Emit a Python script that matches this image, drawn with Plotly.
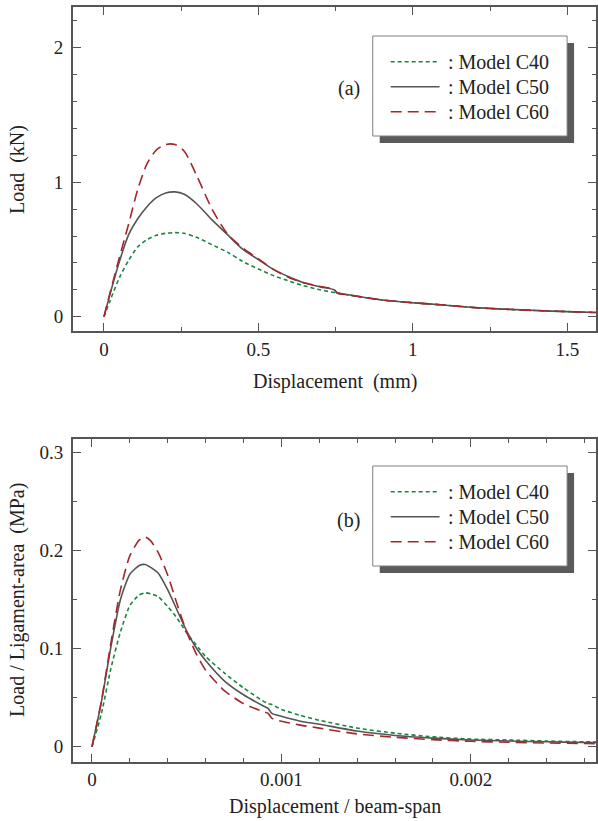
import plotly.graph_objects as go

# ---------------- data ----------------
disp_a = [0, 0.02, 0.05, 0.08, 0.11, 0.14, 0.17, 0.20, 0.23, 0.26, 0.30, 0.35, 0.40, 0.45,
          0.50, 0.55, 0.60, 0.65, 0.70, 0.745, 0.755, 0.80, 0.90, 1.0, 1.1, 1.2, 1.3, 1.4, 1.5, 1.6]
load_c40 = [0, 0.12, 0.29, 0.42, 0.52, 0.575, 0.605, 0.62, 0.625, 0.62, 0.59, 0.535, 0.48, 0.41,
            0.355, 0.305, 0.265, 0.228, 0.20, 0.18, 0.176, 0.158, 0.125, 0.104, 0.087, 0.068, 0.056, 0.046, 0.038, 0.031]
load_c50 = [0, 0.17, 0.41, 0.61, 0.73, 0.82, 0.885, 0.92, 0.928, 0.91, 0.84, 0.72, 0.61, 0.50,
            0.425, 0.35, 0.295, 0.25, 0.222, 0.20, 0.178, 0.16, 0.125, 0.104, 0.087, 0.068, 0.056, 0.046, 0.038, 0.031]
load_c60 = [0, 0.18, 0.44, 0.69, 0.95, 1.14, 1.24, 1.28, 1.28, 1.23, 1.05, 0.80, 0.615, 0.51,
            0.43, 0.35, 0.29, 0.25, 0.225, 0.202, 0.177, 0.16, 0.125, 0.104, 0.087, 0.068, 0.056, 0.046, 0.038, 0.031]

disp_b = [0, 0.05e-3, 0.10e-3, 0.15e-3, 0.20e-3, 0.25e-3, 0.28e-3, 0.31e-3, 0.35e-3, 0.40e-3, 0.45e-3,
          0.50e-3, 0.55e-3, 0.60e-3, 0.70e-3, 0.80e-3, 0.90e-3, 0.93e-3, 0.95e-3, 1.0e-3, 1.1e-3,
          1.2e-3, 1.4e-3, 1.6e-3, 1.8e-3, 2.0e-3, 2.2e-3, 2.4e-3, 2.6e-3, 2.7e-3]
stress_c40 = [0, 0.034, 0.080, 0.117, 0.144, 0.155, 0.157, 0.156, 0.153, 0.143, 0.131, 0.116, 0.104,
              0.092, 0.075, 0.060, 0.047, 0.044, 0.043, 0.038, 0.032, 0.027, 0.019, 0.0138, 0.010,
              0.0078, 0.0068, 0.0058, 0.0050, 0.0048]
stress_c50 = [0, 0.046, 0.102, 0.150, 0.176, 0.185, 0.186, 0.183, 0.177, 0.160, 0.139, 0.118, 0.101,
              0.088, 0.067, 0.053, 0.042, 0.039, 0.034, 0.031, 0.026, 0.023, 0.016, 0.0115, 0.0088,
              0.0068, 0.0058, 0.0050, 0.0043, 0.0040]
stress_c60 = [0, 0.047, 0.106, 0.160, 0.195, 0.211, 0.214, 0.210, 0.198, 0.175, 0.145, 0.117, 0.095,
              0.078, 0.057, 0.044, 0.036, 0.034, 0.029, 0.026, 0.022, 0.019, 0.013, 0.0096, 0.0072,
              0.0055, 0.0045, 0.0038, 0.0032, 0.0030]

series_names = [": Model C40", ": Model C50", ": Model C60"]
ticks_a_x = [0, 0.5, 1, 1.5]
ticks_a_y = [0, 1, 2]
ticks_b_x = [0, 0.001, 0.002]
ticks_b_y = [0, 0.1, 0.2, 0.3]

# ---------------- styles ----------------
W, H = 598, 821
FONT = "Liberation Serif"
colors = ["#17873f", "#555555", "#a3282d"]
dashes = ["4px,3px", "solid", "11px,6px"]
AX = "#555555"


def px(x):
    return x / W


def py(y):
    return 1 - y / H


fig = go.Figure()
for ys, c, d, n in zip([load_c40, load_c50, load_c60], colors, dashes, series_names):
    fig.add_trace(go.Scatter(x=disp_a, y=ys, mode="lines", name=n, showlegend=False,
                             line=dict(color=c, dash=d, width=1.6, shape="spline", smoothing=0.8),
                             xaxis="x", yaxis="y"))
for ys, c, d, n in zip([stress_c40, stress_c50, stress_c60], colors, dashes, series_names):
    fig.add_trace(go.Scatter(x=disp_b, y=ys, mode="lines", name=n, showlegend=False,
                             line=dict(color=c, dash=d, width=1.6, shape="spline", smoothing=0.6),
                             xaxis="x2", yaxis="y2"))

tickfont = dict(family=FONT, size=19, color="#222")
common = dict(showline=True, linecolor=AX, linewidth=1.5, mirror="ticks", ticks="inside",
              tickcolor=AX, tickwidth=1.2, ticklen=8, showgrid=False, zeroline=False,
              tickfont=tickfont)

fig.update_layout(
    width=W, height=H, margin=dict(l=0, r=0, t=0, b=0),
    paper_bgcolor="white", plot_bgcolor="white", showlegend=False,
    font=dict(family=FONT),
    xaxis=dict(domain=[px(73), 1], range=[-0.101, 1.593], anchor="y", tickvals=ticks_a_x,
               ticktext=["0", "0.5", "1", "1.5"], ticklabelstandoff=0,
               minor=dict(dtick=0.25, ticks="inside", ticklen=4, tickcolor=AX, tickwidth=1.2),
               **common),
    yaxis=dict(domain=[py(331), py(7.3)], range=[-0.106, 2.30], anchor="x", tickvals=ticks_a_y,
               ticktext=["0", "1", "2"], ticklabelstandoff=4,
               minor=dict(dtick=0.2, ticks="inside", ticklen=4, tickcolor=AX, tickwidth=1.2),
               **common),
    xaxis2=dict(domain=[px(73), 1], range=[-0.0001016, 0.002661], anchor="y2", tickvals=ticks_b_x,
                ticktext=["0", "0.001", "0.002"], ticklabelstandoff=0,
                minor=dict(dtick=0.0002, ticks="inside", ticklen=4, tickcolor=AX, tickwidth=1.2),
                **common),
    yaxis2=dict(domain=[py(761.7), py(439)], range=[-0.0153, 0.314], anchor="x2", tickvals=ticks_b_y,
                ticktext=["0", "0.1", "0.2", "0.3"], ticklabelstandoff=4,
                minor=dict(dtick=0.05, ticks="inside", ticklen=4, tickcolor=AX, tickwidth=1.2),
                **common),
)

txtfont = dict(family=FONT, size=20, color="#222")
annotations = [
    dict(x=px(17), y=py(169), text="Load  (kN)", textangle=-90),
    dict(x=px(336), y=py(381), text="Displacement  (mm)"),
    dict(x=px(17), y=py(600), text="Load / Ligament-area  (MPa)", textangle=-90),
    dict(x=px(336), y=py(806), text="Displacement / beam-span"),
    dict(x=px(350), y=py(88), text="(a)"),
    dict(x=px(350), y=py(520), text="(b)"),
]
shapes = []
for oy in [0, 430]:
    # shadow
    shapes.append(dict(type="rect", xref="paper", yref="paper", x0=px(381), x1=px(576),
                       y0=py(143 + oy), y1=py(43 + oy), fillcolor="#5a5a5a", line=dict(width=0),
                       layer="above"))
    shapes.append(dict(type="rect", xref="paper", yref="paper", x0=px(374), x1=px(569),
                       y0=py(136 + oy), y1=py(36 + oy), fillcolor="white",
                       line=dict(color="#808080", width=1), layer="above"))
    for i, (c, d, n) in enumerate(zip(colors, dashes, series_names)):
        yy = 61.7 + 25 * i + oy
        shapes.append(dict(type="line", xref="paper", yref="paper", x0=px(392), x1=px(441),
                           y0=py(yy), y1=py(yy), line=dict(color=c, dash=d, width=1.6),
                           layer="above"))
        annotations.append(dict(x=px(447), y=py(yy), text=n, xanchor="left"))

for a in annotations:
    a.setdefault("xanchor", "center")
    a.update(xref="paper", yref="paper", showarrow=False, yanchor="middle", font=txtfont)

fig.update_layout(annotations=annotations, shapes=shapes)
fig.write_html("out.html")
